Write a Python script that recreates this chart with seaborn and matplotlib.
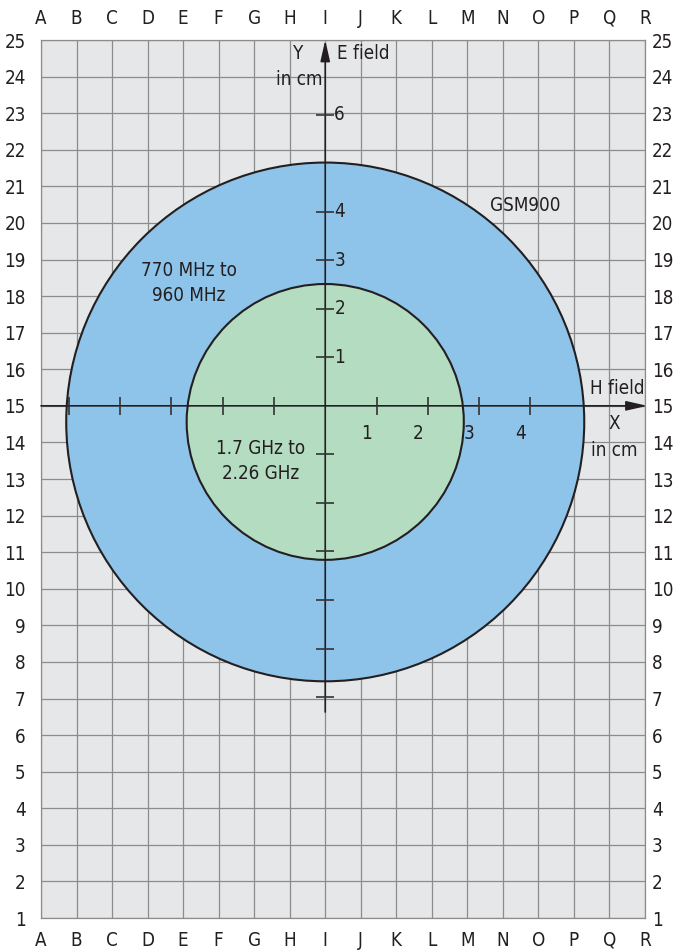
import matplotlib
matplotlib.use("Agg")
import matplotlib.pyplot as plt
from matplotlib.patches import Ellipse
import seaborn as sns

# ----------------------------------------------------------
# Dati del grafico (coordinate della griglia: colonne A..R = 0..17, righe 1..25)
# ----------------------------------------------------------
col_labels = list("ABCDEFGHIJKLMNOPQR")
row_labels = list(range(1, 26))

origin = (8.0, 15.0)          # incrocio assi (colonna I, riga 15)
cm_x = 1.444                  # colonne per cm
cm_y = 1.327                  # righe per cm

x_ticks_cm = [-5, -4, -3, -2, -1, 1, 2, 3, 4]
x_tick_labels = ["", "", "", "", "", "1", "2", "3", "4"]
y_ticks_cm = [-6, -5, -4, -3, -2, -1, 1, 2, 3, 4, 6]
y_tick_labels = ["", "", "", "", "", "", "1", "2", "3", "4", "6"]

# zone (centro, semiassi in unita di griglia)
zone_names = ["770 MHz to\n960 MHz", "1.7 GHz to\n2.26 GHz"]
zone_center = (8.0, 14.56)
zone_rx = [7.29, 3.90]
zone_ry = [7.09, 3.77]
zone_colors = ["#8ec3ea", "#b3dcc1"]

y_axis_bottom = 6.63
x_axis_end = 17.07

# ----------------------------------------------------------
# Stile
# ----------------------------------------------------------
sns.set_style("whitegrid", {"axes.facecolor": "#e6e7e9",
                            "grid.color": "#8c8c8c",
                            "axes.edgecolor": "#8c8c8c"})
plt.rcParams["font.family"] = ["Liberation Sans Narrow", "DejaVu Sans"]
plt.rcParams["font.stretch"] = "condensed"
plt.rcParams["font.size"] = 12
txt = "#231f20"
fs = 13.5

fig = plt.figure(figsize=(6.75, 9.51), dpi=100)
ax = fig.add_axes([41 / 675, 33 / 951, 604 / 675, 878 / 951])
ax.set_xlim(0, 17)
ax.set_ylim(1, 25)
ax.set_axisbelow(True)
ax.grid(True, lw=0.9)
for s in ax.spines.values():
    s.set_linewidth(0.9)

# etichette griglia
ax.set_xticks(range(len(col_labels)), col_labels)
ax.set_yticks(row_labels, [str(r) for r in row_labels])
ax.tick_params(axis="both", length=0, colors=txt, labelsize=fs)
ax.tick_params(axis="x", labeltop=True, labelbottom=True, pad=9)
ax.tick_params(axis="y", pad=11)
sec = ax.secondary_yaxis("right")
sec.set_yticks(row_labels, [str(r) for r in row_labels])
sec.tick_params(length=0, pad=5, colors=txt, labelsize=fs)
sec.spines["right"].set_visible(False)

# zone colorate
for rx, ry, c in zip(zone_rx, zone_ry, zone_colors):
    ax.add_patch(Ellipse(zone_center, 2 * rx, 2 * ry, facecolor=c,
                         edgecolor="#231f20", lw=1.5, zorder=1))

# assi con frecce
arrow = dict(arrowstyle="-|>,head_length=0.8,head_width=0.18", color=txt,
             lw=1.2, mutation_scale=16, shrinkA=0, shrinkB=0)
ax.annotate("", xy=(x_axis_end, origin[1]), xytext=(0, origin[1]),
            arrowprops=arrow, zorder=3, annotation_clip=False)
ax.annotate("", xy=(origin[0], 25), xytext=(origin[0], y_axis_bottom),
            arrowprops=arrow, zorder=3, annotation_clip=False)

# tacche in cm
xt = [origin[0] + v * cm_x for v in x_ticks_cm]
yt = [origin[1] + v * cm_y for v in y_ticks_cm]
sns.scatterplot(x=xt, y=[origin[1]] * len(xt), marker="|", s=170,
                color="#333333", linewidth=1.2, ax=ax, zorder=3)
sns.scatterplot(x=[origin[0]] * len(yt), y=yt, marker="_", s=170,
                color="#333333", linewidth=1.2, ax=ax, zorder=3)
for x, lab in zip(xt, x_tick_labels):
    if lab:
        ax.annotate(lab, (x, origin[1]), xytext=(-7, -20), textcoords="offset points",
                    ha="center", va="center", color=txt, fontsize=fs, zorder=4)
for y, lab in zip(yt, y_tick_labels):
    if lab:
        ax.annotate(lab, (origin[0], y), xytext=(6.5, 0), textcoords="offset points",
                    ha="left", va="center", color=txt, fontsize=fs, zorder=4)

# testi
ax.text(7.23, 24.64, "Y", ha="center", va="center", color=txt, fontsize=fs)
ax.text(7.26, 23.93, "in cm", ha="center", va="center", color=txt, fontsize=fs)
ax.text(8.33, 24.64, "E field", ha="left", va="center", color=txt, fontsize=fs)
ax.text(13.62, 20.48, "GSM900", ha="center", va="center", color=txt, fontsize=fs)
ax.text(4.17, 18.36, zone_names[0], ha="center", va="center", color=txt,
        fontsize=fs, linespacing=1.4)
ax.text(6.19, 13.48, zone_names[1], ha="center", va="center", color=txt,
        fontsize=fs, linespacing=1.4)
ax.text(16.21, 15.48, "H field", ha="center", va="center", color=txt, fontsize=fs)
ax.text(16.13, 14.52, "X", ha="center", va="center", color=txt, fontsize=fs)
ax.text(16.13, 13.78, "in cm", ha="center", va="center", color=txt, fontsize=fs)

fig.savefig("out.png", dpi=100)
